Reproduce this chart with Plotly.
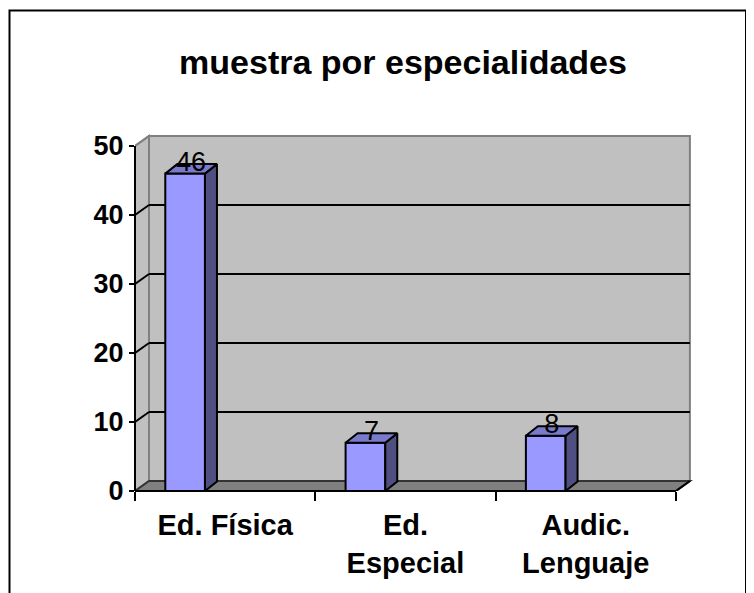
import plotly.graph_objects as go

# ---- data ----
categories = ["Ed. Física", "Ed.<br>Especial", "Audic.<br>Lenguaje"]
values = [46, 7, 8]
y_tick_vals = [0, 10, 20, 30, 40, 50]
y_tick_text = ["0", "10", "20", "30", "40", "50"]
title_text = "muestra por especialidades"

# ---- geometry / style (figure sits 8px inside the page because of body margin) ----
W, H = 746, 585
ML, MR, MT, MB = 127, 60, 124, 102
plot_w = W - ML - MR
plot_h = H - MT - MB
cat_px = 180.3          # pixels per category
y_px = 6.9              # pixels per unit
x_lo = -0.5
x_hi = x_lo + plot_w / cat_px
y_lo = 0
y_hi = plot_h / y_px
y_top = max(y_tick_vals)
n = len(categories)
x_end = n - 0.5
wdx, wdy = 14 / cat_px, 10 / y_px     # wall depth offset
bdx, bdy = 12 / cat_px, 9.5 / y_px    # bar depth offset
bar_off, bar_w = -0.332, 0.22

FONT = "Liberation Sans, Arial, sans-serif"
FRONT = "#9999FF"
SIDE = "#4F4F82"
TOP = "#7A7ACC"
WALL = "#C0C0C0"
FLOOR = "#808080"

xs = list(range(n))

fig = go.Figure()

# front faces
fig.add_trace(go.Bar(
    x=xs, y=values, width=bar_w, offset=bar_off,
    marker=dict(color=FRONT, line=dict(color="black", width=2)),
    hoverinfo="skip", showlegend=False,
))

# side and top faces
for i, v in zip(xs, values):
    xl = i + bar_off
    xr = xl + bar_w
    fig.add_trace(go.Scatter(
        x=[xr, xr, xr + bdx, xr + bdx, xr],
        y=[0, v, v + bdy, bdy, 0],
        mode="lines", fill="toself", fillcolor=SIDE,
        line=dict(color="black", width=2), hoverinfo="skip", showlegend=False,
    ))
    fig.add_trace(go.Scatter(
        x=[xl, xr, xr + bdx, xl + bdx, xl],
        y=[v, v, v + bdy, v + bdy, v],
        mode="lines", fill="toself", fillcolor=TOP,
        line=dict(color="black", width=2), hoverinfo="skip", showlegend=False,
    ))

# data labels
fig.add_trace(go.Scatter(
    x=[i + bar_off + bar_w / 2 + bdx / 2 for i in xs],
    y=[v + bdy for v in values],
    text=[str(v) for v in values],
    mode="text", textposition="middle center",
    textfont=dict(family=FONT, size=27, color="black"),
    hoverinfo="skip", showlegend=False, cliponaxis=False,
))

shapes = []
# back wall
shapes.append(dict(type="rect", xref="x", yref="y", layer="below",
                   x0=x_lo + wdx, x1=x_end + wdx, y0=wdy, y1=y_top + wdy,
                   fillcolor=WALL, line=dict(color="#808080", width=2)))
# left wall
shapes.append(dict(type="path", xref="x", yref="y", layer="below",
                   path=f"M {x_lo},0 L {x_lo},{y_top} L {x_lo + wdx},{y_top + wdy} L {x_lo + wdx},{wdy} Z",
                   fillcolor=WALL, line=dict(color="#808080", width=2)))
# floor
shapes.append(dict(type="path", xref="x", yref="y", layer="below",
                   path=f"M {x_lo},0 L {x_end},0 L {x_end + wdx},{wdy} L {x_lo + wdx},{wdy} Z",
                   fillcolor=FLOOR, line=dict(color="#333333", width=2)))
# gridlines
for v in y_tick_vals:
    if v == 0 or v == y_top:
        continue
    shapes.append(dict(type="line", xref="x", yref="y", layer="below",
                       x0=x_lo + wdx, x1=x_end + wdx, y0=v + wdy, y1=v + wdy,
                       line=dict(color="black", width=2)))
    shapes.append(dict(type="line", xref="x", yref="y", layer="below",
                       x0=x_lo, x1=x_lo + wdx, y0=v, y1=v + wdy,
                       line=dict(color="black", width=2)))
# top-left diagonal at 50
shapes.append(dict(type="line", xref="x", yref="y", layer="below",
                   x0=x_lo, x1=x_lo + wdx, y0=y_top, y1=y_top + wdy,
                   line=dict(color="#808080", width=2)))
# front axis lines
shapes.append(dict(type="line", xref="paper", yref="y", layer="above",
                   x0=0, x1=0, y0=0, y1=y_top, line=dict(color="black", width=2)))
shapes.append(dict(type="line", xref="x", yref="paper", layer="above",
                   x0=x_lo, x1=x_end, y0=0, y1=0, line=dict(color="black", width=2)))
# floor right diagonal
shapes.append(dict(type="line", xref="x", yref="y", layer="above",
                   x0=x_end, x1=x_end + wdx, y0=0, y1=wdy, line=dict(color="black", width=2)))
# outer chart border
shapes.append(dict(type="rect", xref="paper", yref="paper", layer="above",
                   x0=(1.5 - ML) / plot_w, x1=(738 - ML) / plot_w,
                   y0=(H - MB - 640) / plot_h, y1=(H - MB - 2.5) / plot_h,
                   fillcolor="rgba(0,0,0,0)", line=dict(color="black", width=2)))

fig.update_layout(
    width=W, height=H, autosize=False,
    margin=dict(l=ML, r=MR, t=MT, b=MB, pad=0),
    paper_bgcolor="white", plot_bgcolor="rgba(0,0,0,0)",
    title=dict(text=title_text, x=395 / W, xanchor="center", xref="container",
               y=1 - 54 / H, yanchor="middle", yref="container",
               font=dict(family=FONT, size=34, color="black", weight="bold")),
    shapes=shapes,
    showlegend=False,
    xaxis=dict(range=[x_lo, x_hi], tickvals=xs, ticktext=categories,
               ticks="", showgrid=False, zeroline=False, showline=False,
               tickfont=dict(family=FONT, size=29, color="black", weight="bold"),
               ticklabelstandoff=14,
               minor=dict(tick0=0.5, dtick=1, ticks="outside", ticklen=9,
                          tickwidth=2, tickcolor="black", showgrid=False)),
    yaxis=dict(range=[y_lo, y_hi], tickvals=y_tick_vals, ticktext=y_tick_text,
               ticks="outside", ticklen=5, tickwidth=2, tickcolor="black",
               showgrid=False, zeroline=False, showline=False,
               tickfont=dict(family=FONT, size=27, color="black", weight="bold")),
)

fig.write_html("out.html")
